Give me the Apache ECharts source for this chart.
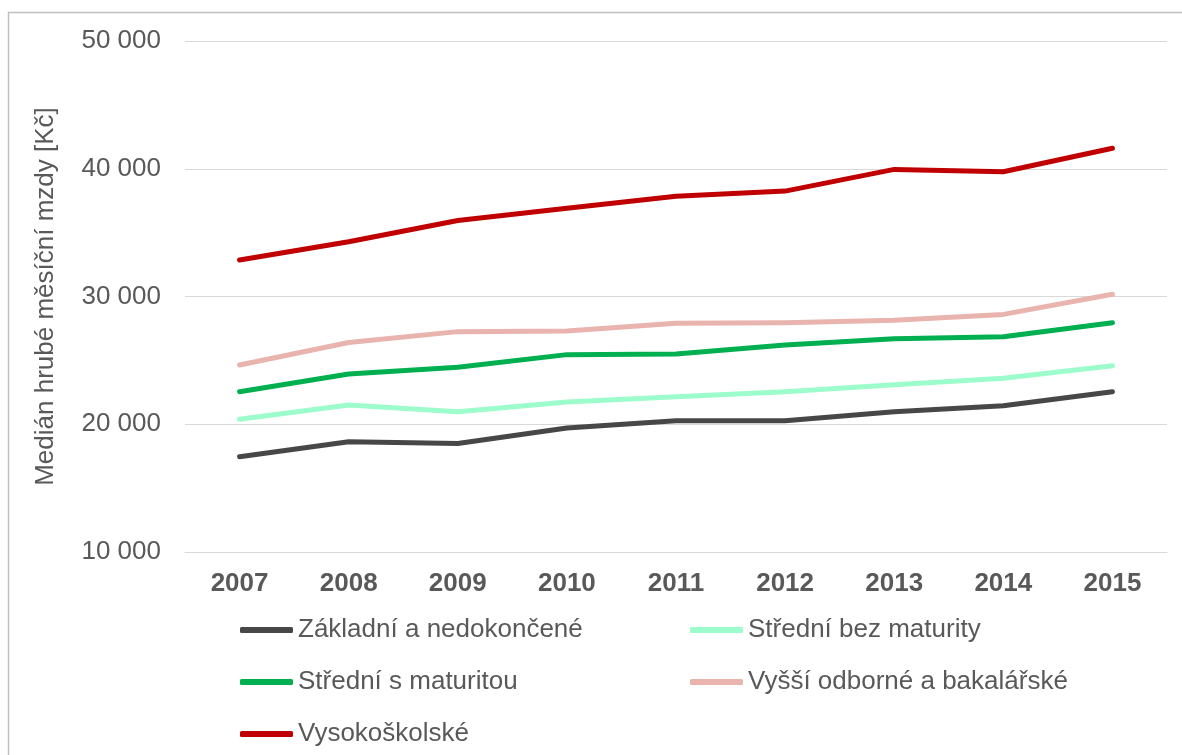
<!DOCTYPE html>
<html>
<head>
<meta charset="utf-8">
<script src="https://cdn.jsdelivr.net/npm/echarts@6/dist/echarts.min.js"></script>
<style>
  html, body { margin: 0; padding: 0; background: #ffffff; }
  #chart { width: 1182px; height: 755px; }
</style>
</head>
<body>
<div id="chart"></div>
<script>
// Years on the category axis
const years = ['2007', '2008', '2009', '2010', '2011', '2012', '2013', '2014', '2015'];

// Median gross monthly wage [Kč] by education level
const zakladni = [17460, 18630, 18500, 19700, 20270, 20270, 20980, 21450, 22550];
const stredniBezMat = [20390, 21500, 20980, 21750, 22150, 22550, 23100, 23600, 24580];
const stredniSMat = [22550, 23930, 24460, 25450, 25500, 26200, 26700, 26850, 27950];
const vyssiOdb = [24640, 26400, 27250, 27300, 27900, 27950, 28150, 28600, 30170];
const vysokoskolske = [32860, 34290, 35950, 36900, 37850, 38250, 39950, 39770, 41600];

// Series names
const names = [
  'Základní a nedokončené',
  'Střední bez maturity',
  'Střední s maturitou',
  'Vyšší odborné a bakalářské',
  'Vysokoškolské'
];

const FONT = '"Liberation Sans", Arial, sans-serif';
const TEXT = '#595959';
const FS = 26;

function fmt(v) {
  return String(v).replace(/\B(?=(\d{3})+(?!\d))/g, ' ');
}

function lineSeries(name, data, color) {
  return {
    name: name,
    type: 'line',
    data: data,
    symbol: 'none',
    smooth: false,
    lineStyle: { color: color, width: 5, cap: 'round', join: 'round' },
    itemStyle: { color: color }
  };
}

const legendCommon = {
  orient: 'vertical',
  icon: 'roundRect',
  itemWidth: 53,
  itemHeight: 6,
  itemGap: 22,
  padding: 0,
  selectedMode: false,
  textStyle: { fontFamily: FONT, fontSize: FS, color: TEXT, lineHeight: 30 }
};

const chart = echarts.init(document.getElementById('chart'), null, { renderer: 'canvas' });
chart.setOption({
  animation: false,
  backgroundColor: '#ffffff',
  graphic: [{
    type: 'rect',
    shape: { x: 8.5, y: 12.5, width: 1200, height: 800 },
    style: { fill: 'none', stroke: '#bfbfbf', lineWidth: 1.5 },
    silent: true
  }],
  grid: {
    left: 185, right: 15, top: 41, bottom: 203,
    containLabel: false,
    outerBoundsMode: 'none'
  },
  legend: [
    Object.assign({}, legendCommon, {
      left: 240, top: 615,
      data: [names[0], names[2], names[4]]
    }),
    Object.assign({}, legendCommon, {
      left: 690, top: 615,
      data: [names[1], names[3]]
    })
  ],
  xAxis: {
    type: 'category',
    data: years,
    boundaryGap: true,
    axisLine: { show: true, lineStyle: { color: '#d9d9d9', width: 1 } },
    axisTick: { show: false },
    axisLabel: {
      fontFamily: FONT, fontSize: FS, fontWeight: 'bold', color: TEXT, margin: 19
    }
  },
  yAxis: {
    type: 'value',
    min: 10000, max: 50000, interval: 10000,
    name: 'Medián hrubé měsíční mzdy [Kč]',
    nameLocation: 'middle',
    nameRotate: 90,
    nameGap: 126,
    nameTextStyle: { fontFamily: FONT, fontSize: FS, color: TEXT },
    axisLine: { show: false },
    axisTick: { show: false },
    axisLabel: {
      fontFamily: FONT, fontSize: FS, color: TEXT, margin: 24,
      formatter: fmt
    },
    splitLine: { lineStyle: { color: '#d9d9d9', width: 1 } }
  },
  series: [
    lineSeries(names[0], zakladni, '#474747'),
    lineSeries(names[1], stredniBezMat, '#9dfccc'),
    lineSeries(names[2], stredniSMat, '#00b050'),
    lineSeries(names[3], vyssiOdb, '#e9b3ae'),
    lineSeries(names[4], vysokoskolske, '#c00000')
  ]
});
</script>
</body>
</html>
